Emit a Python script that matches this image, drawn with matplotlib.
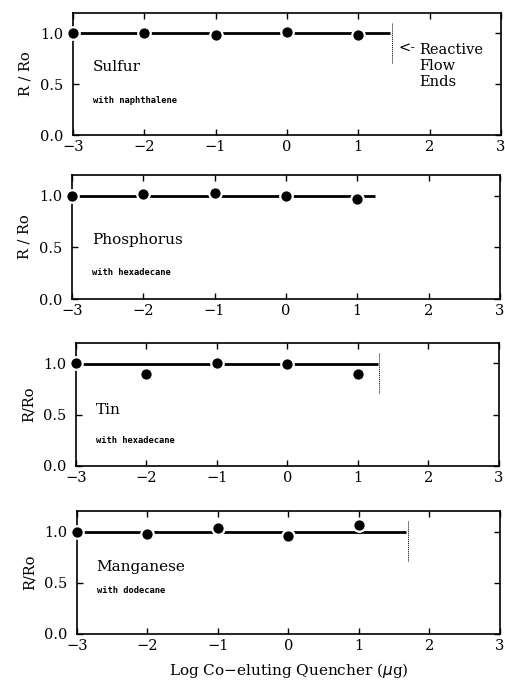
import matplotlib.pyplot as plt
import numpy as np

log_quencher = [-3, -2, -1, 0, 1]

elements = ["Sulfur", "Phosphorus", "Tin", "Manganese"]
quenchers = ["with naphthalene", "with hexadecane", "with hexadecane", "with dodecane"]
ylabels = ["R / Ro", "R / Ro", "R/Ro", "R/Ro"]

sulfur = [1.00, 1.00, 0.98, 1.01, 0.98]
phosphorus = [1.00, 1.02, 1.03, 1.00, 0.97]
tin = [1.00, 0.90, 1.00, 0.99, 0.90]
manganese = [1.00, 0.98, 1.03, 0.96, 1.06]
ratios = [sulfur, phosphorus, tin, manganese]

fit_level = [1.00, 1.00, 0.99, 1.00]
flow_end = [1.47, 1.27, 1.30, 1.69]
show_flow_end = [True, False, True, True]

# axes boxes in figure fractions (left, bottom, width, height)
boxes = [
    (0.144, 0.803, 0.846, 0.178),
    (0.142, 0.564, 0.846, 0.181),
    (0.150, 0.321, 0.836, 0.179),
    (0.152, 0.076, 0.836, 0.179),
]
name_y = [0.67, 0.57, 0.55, 0.65]
sub_y = [0.34, 0.26, 0.25, 0.42]

serif = "DejaVu Serif"

fig = plt.figure(figsize=(5.06, 6.86), dpi=100)

for i in range(4):
    ax = fig.add_axes(boxes[i])
    ax.hlines(fit_level[i], -3, flow_end[i] - 0.02, color="black", lw=2.0, zorder=2)
    ax.plot(log_quencher, ratios[i], "o", color="black", ms=9,
            mec="white", mew=1.6, zorder=3, clip_on=False)
    if show_flow_end[i]:
        ax.vlines(flow_end[i], 0.71, 1.10, color="black", lw=0.7,
                  linestyles=(0, (1, 1)), zorder=1)
    ax.set_xlim(-3, 3)
    ax.set_ylim(0, 1.2)
    ax.set_xticks(np.arange(-3, 4, 1))
    ax.set_yticks([0.0, 0.5, 1.0])
    ax.set_xticklabels(["\u22123", "\u22122", "\u22121", "0", "1", "2", "3"],
                       family=serif, fontsize=10.5)
    ax.set_yticklabels(["0.0", "0.5", "1.0"], family=serif, fontsize=10.5)
    ax.tick_params(direction="in", top=True, right=True, length=4, width=1)
    ax.tick_params(axis="y", pad=7)
    for s in ax.spines.values():
        s.set_linewidth(1.2)
    ax.set_ylabel(ylabels[i], family=serif, fontsize=10.5, labelpad=5)
    ax.text(-2.72, name_y[i], elements[i], family=serif, fontsize=11, va="center")
    ax.text(-2.72, sub_y[i], quenchers[i], family="DejaVu Sans Mono",
            fontsize=6.3, fontweight="bold", va="center")
    if i == 0:
        ax.text(1.56, 0.85, "<-", family=serif, fontsize=10.5, va="center")
        ax.text(1.85, 0.68, "Reactive\nFlow\nEnds", family=serif,
                fontsize=10.5, va="center", linespacing=1.15)
    if i == 3:
        ax.set_xlabel("Log Co\u2212eluting Quencher ($\\mu$g)", family=serif,
                      fontsize=11, labelpad=6)

fig.savefig("out.png", dpi=100)
